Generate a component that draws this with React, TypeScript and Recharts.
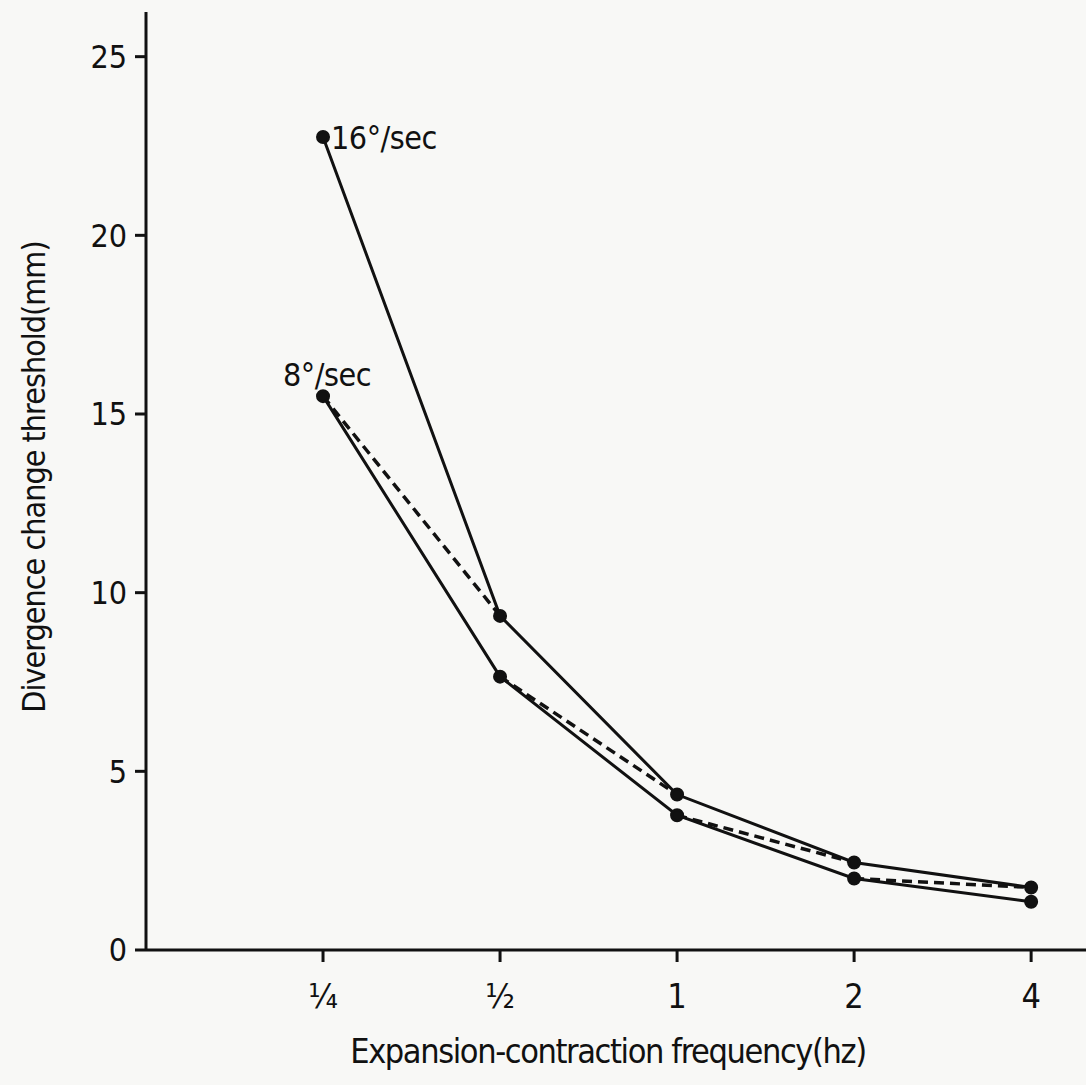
import React from "react"
import { LineChart, Line, XAxis, YAxis, LabelList } from "recharts"

const freqLabels = ["¼", "½", "1", "2", "4"]
const freqPos = [1, 2, 3, 4, 5]
const yTicks = [0, 5, 10, 15, 20, 25]
const fast = [22.75, 9.35, 4.35, 2.45, 1.75] // 16°/sec
const slow = [15.5, 7.65, 3.77, 2.0, 1.35] // 8°/sec

const font = "'DejaVu Sans Condensed', 'Liberation Sans Narrow', sans-serif"
const ink = "#111"

const fastData = freqPos.map((x, i) => ({ x, y: fast[i] }))
const slowData = freqPos.map((x, i) => ({ x, y: slow[i] }))
// dashed: 8°/sec at f joined to 16°/sec at the next frequency
const dashSegs = freqPos.slice(0, -1).map((x, i) => [
  { x, y: slow[i] },
  { x: freqPos[i + 1], y: fast[i + 1] },
])

const firstLabel = (text: string, dx: number, dy: number, anchor: string) => (props: any) => {
  if (props.index !== 0) return null
  return (
    <text x={props.x + dx} y={props.y + dy} textAnchor={anchor} fontSize={32} letterSpacing={-0.5} fontFamily={font} fill={ink}>
      {text}
    </text>
  )
}

export default function App() {
  return (
    <div style={{ width: 1086, height: 1085, background: "#f8f8f6" }}>
      <style>{`body{margin:0}`}</style>
      <LineChart width={1086} height={1085} margin={{ top: 12, right: 0, left: 0, bottom: 0 }}>
        <XAxis
          type="number"
          dataKey="x"
          domain={[0, 5.31]}
          ticks={freqPos}
          tickFormatter={(v) => freqLabels[v - 1]}
          height={135}
          tickSize={12}
          tickMargin={22}
          stroke={ink}
          strokeWidth={3}
          tick={{ fontSize: 34, fontFamily: font, fill: ink }}
          label={{ value: "Expansion-contraction frequency(hz)", position: "insideBottom", offset: 22, fontSize: 34, letterSpacing: -1.4, fontFamily: font, fill: ink, dx: -8 }}
        />
        <YAxis
          type="number"
          domain={[0, 26.25]}
          ticks={yTicks}
          allowDataOverflow
          width={146}
          tickSize={11}
          tickMargin={8}
          stroke={ink}
          strokeWidth={3}
          tick={{ fontSize: 32, fontFamily: font, fill: ink }}
          label={{ value: "Divergence change threshold(mm)", angle: -90, position: "insideLeft", offset: 34, fontSize: 32, letterSpacing: -1, fontFamily: font, fill: ink, dy: -4, style: { textAnchor: "middle" } }}
        />
        <Line data={fastData} dataKey="y" stroke={ink} strokeWidth={3} dot={{ r: 5.5, fill: ink, stroke: ink }} isAnimationActive={false}>
          <LabelList content={firstLabel("16°/sec", 8, 12, "start")} />
        </Line>
        <Line data={slowData} dataKey="y" stroke={ink} strokeWidth={3} dot={{ r: 5.5, fill: ink, stroke: ink }} isAnimationActive={false}>
          <LabelList content={firstLabel("8°/sec", 4, -10, "middle")} />
        </Line>
        {dashSegs.map((seg, i) => (
          <Line key={i} data={seg} dataKey="y" stroke={ink} strokeWidth={3.5} strokeDasharray="10 6" dot={false} isAnimationActive={false} />
        ))}
      </LineChart>
    </div>
  )
}
